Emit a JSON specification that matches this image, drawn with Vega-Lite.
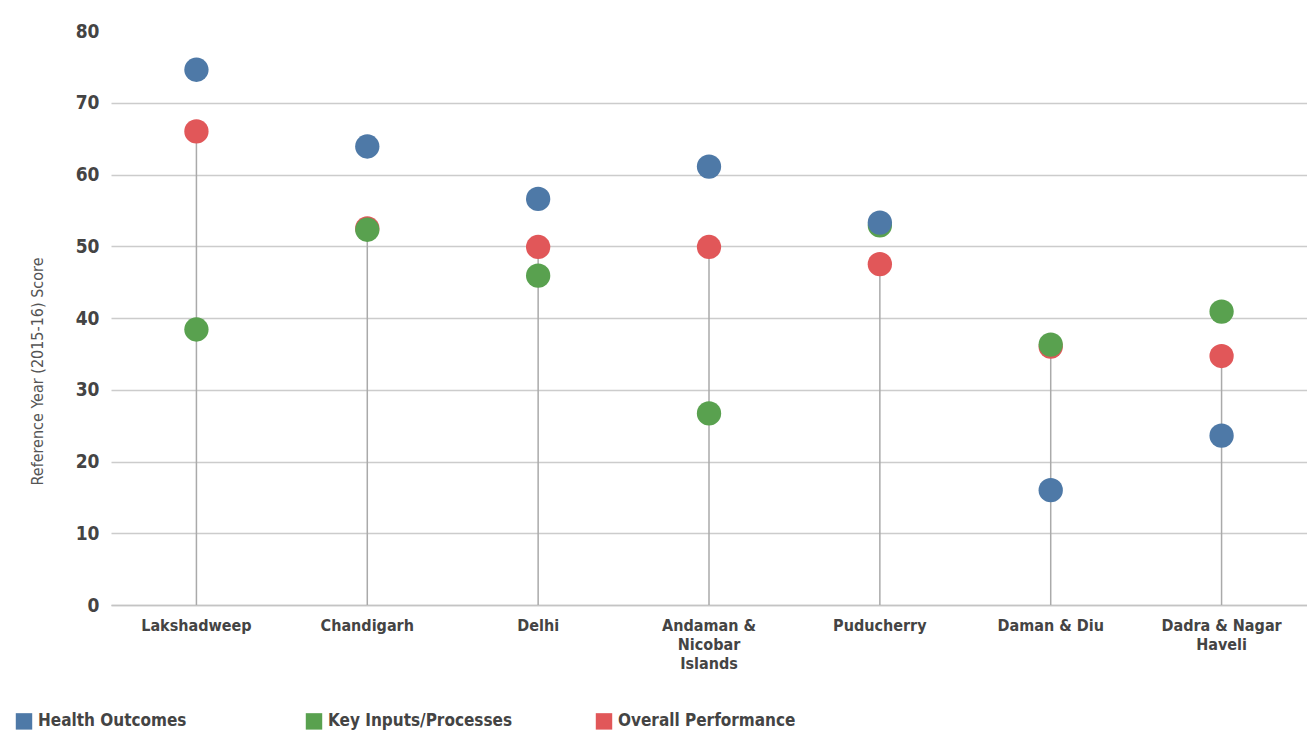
{
  "$schema": "https://vega.github.io/schema/vega-lite/v6.json",
  "width": 1196,
  "height": 574,
  "autosize": {"type": "none"},
  "padding": {"left": 111, "top": 31, "right": 0, "bottom": 135},
  "background": "white",
  "config": {
    "font": "DejaVu Sans Condensed, Roboto, sans-serif",
    "view": {"stroke": null}
  },
  "data": {
    "values": [
      {"region": "Lakshadweep", "metric": "Overall Performance", "value": 66.0},
      {"region": "Chandigarh", "metric": "Overall Performance", "value": 52.5},
      {"region": "Delhi", "metric": "Overall Performance", "value": 49.9},
      {"region": "Andaman & Nicobar Islands", "metric": "Overall Performance", "value": 49.9},
      {"region": "Puducherry", "metric": "Overall Performance", "value": 47.5},
      {"region": "Daman & Diu", "metric": "Overall Performance", "value": 36.0},
      {"region": "Dadra & Nagar Haveli", "metric": "Overall Performance", "value": 34.7},
      {"region": "Lakshadweep", "metric": "Key Inputs/Processes", "value": 38.4},
      {"region": "Chandigarh", "metric": "Key Inputs/Processes", "value": 52.3},
      {"region": "Delhi", "metric": "Key Inputs/Processes", "value": 45.9},
      {"region": "Andaman & Nicobar Islands", "metric": "Key Inputs/Processes", "value": 26.7},
      {"region": "Puducherry", "metric": "Key Inputs/Processes", "value": 52.9},
      {"region": "Daman & Diu", "metric": "Key Inputs/Processes", "value": 36.3},
      {"region": "Dadra & Nagar Haveli", "metric": "Key Inputs/Processes", "value": 40.9},
      {"region": "Lakshadweep", "metric": "Health Outcomes", "value": 74.6},
      {"region": "Chandigarh", "metric": "Health Outcomes", "value": 63.9},
      {"region": "Delhi", "metric": "Health Outcomes", "value": 56.6},
      {"region": "Andaman & Nicobar Islands", "metric": "Health Outcomes", "value": 61.1},
      {"region": "Puducherry", "metric": "Health Outcomes", "value": 53.3},
      {"region": "Daman & Diu", "metric": "Health Outcomes", "value": 16.0},
      {"region": "Dadra & Nagar Haveli", "metric": "Health Outcomes", "value": 23.6}
    ]
  },
  "encoding": {
    "x": {
      "field": "region",
      "type": "nominal",
      "sort": null,
      "scale": {"paddingInner": 0, "paddingOuter": 0},
      "axis": {
        "title": null,
        "labelAngle": 0,
        "ticks": false,
        "domainColor": "#c4c4c4",
        "domainWidth": 1.5,
        "labelFontSize": 16,
        "labelFontWeight": "bold",
        "labelColor": "#444444",
        "labelPadding": 12,
        "labelLineHeight": 19,
        "labelBaseline": "top",
        "labelExpr": "datum.label == 'Andaman & Nicobar Islands' ? ['Andaman &', 'Nicobar', 'Islands'] : datum.label == 'Dadra & Nagar Haveli' ? ['Dadra & Nagar', 'Haveli'] : datum.label"
      }
    }
  },
  "layer": [
    {
      "transform": [{"filter": "datum.metric == 'Overall Performance'"}],
      "mark": {"type": "rule", "color": "#aaaaaa", "strokeWidth": 1.5},
      "encoding": {
        "y": {"field": "value", "type": "quantitative"},
        "y2": {"datum": 0}
      }
    },
    {
      "mark": {"type": "circle", "size": 590, "opacity": 1},
      "encoding": {
        "y": {
          "field": "value",
          "type": "quantitative",
          "scale": {"domain": [0, 80], "nice": false},
          "axis": {
            "title": "Reference Year (2015-16) Score",
            "titleFontSize": 16,
            "titleFontWeight": "normal",
            "titleColor": "#555555",
            "titlePadding": 30,
            "titleY": 340,
            "values": [0, 10, 20, 30, 40, 50, 60, 70, 80],
            "domain": false,
            "ticks": false,
            "grid": true,
            "gridColor": "#cccccc",
            "gridWidth": 1.5,
            "gridOpacity": {"condition": {"test": "datum.value == 80", "value": 0}, "value": 1},
            "labelFontSize": 19,
            "labelFontWeight": "bold",
            "labelColor": "#444444",
            "labelPadding": 12
          }
        },
        "color": {
          "field": "metric",
          "type": "nominal",
          "scale": {
            "domain": ["Health Outcomes", "Key Inputs/Processes", "Overall Performance"],
            "range": ["#4e79a7", "#59a14f", "#e15759"]
          },
          "legend": {
            "title": null,
            "orient": "none",
            "legendX": -96,
            "legendY": 681,
            "direction": "horizontal",
            "columns": 3,
            "gridAlign": "all",
            "columnPadding": 82,
            "symbolType": "square",
            "symbolSize": 270,
            "symbolOpacity": 1,
            "labelFontSize": 17,
            "labelFontWeight": "bold",
            "labelColor": "#444444",
            "labelOffset": 5,
            "labelLimit": 300
          }
        }
      }
    }
  ]
}
